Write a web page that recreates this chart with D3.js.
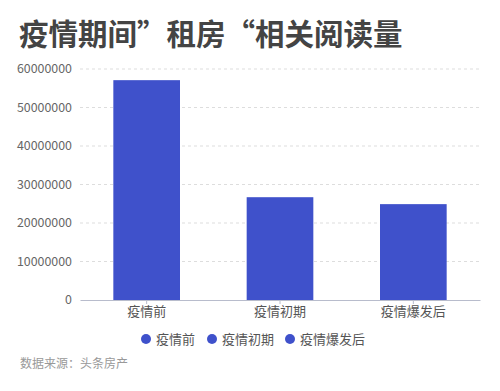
<html>
<head>
<meta charset="utf-8">
<script src="https://d3js.org/d3.v7.min.js"></script>
<style>
body { margin: 0; background: #fff; }
text { font-family: "Noto Sans CJK SC", "Noto Sans", sans-serif; }
</style>
</head>
<body>
<svg width="500" height="391"></svg>
<script>
const categories = ["疫情前", "疫情初期", "疫情爆发后"];
const values = [57100000, 26700000, 24900000];
const yTicks = [0, 10000000, 20000000, 30000000, 40000000, 50000000, 60000000];
const title = "疫情期间”租房“相关阅读量";
const source = "数据来源：头条房产";

const svg = d3.select("svg");
const color = "#3f51cb";

const x = d3.scaleBand().domain(categories).range([80, 480]).paddingInner(0.5).paddingOuter(0.25);
const y = d3.scaleLinear().domain([0, 60000000]).range([300, 69]);

// title
svg.append("text")
  .attr("x", 19)
  .attr("y", 45)
  .style("font-size", "29.5px")
  .style("font-weight", "bold")
  .attr("fill", "#444")
  .text(title);

// grid lines
svg.append("g")
  .selectAll("line")
  .data(yTicks.slice(1))
  .enter()
  .append("line")
  .attr("x1", 80)
  .attr("x2", 480)
  .attr("y1", d => y(d))
  .attr("y2", d => y(d))
  .attr("stroke", "#ddd")
  .attr("stroke-dasharray", "3,3");

// y axis
const yAxis = svg.append("g")
  .attr("transform", "translate(80,0)")
  .call(d3.axisLeft(y).tickValues(yTicks).tickFormat(d3.format("d")).tickSize(0).tickPadding(8));
yAxis.select(".domain").remove();
yAxis.selectAll("text").attr("fill", "#666").style("font-size", "12.4px");

// bars
svg.append("g")
  .selectAll("rect")
  .data(values)
  .enter()
  .append("rect")
  .attr("x", (d, i) => x(categories[i]))
  .attr("y", d => y(d))
  .attr("width", x.bandwidth())
  .attr("height", d => y(0) - y(d))
  .attr("fill", color);

// x axis
const xAxis = svg.append("g")
  .attr("transform", "translate(0,300)")
  .call(d3.axisBottom(x).tickSize(4).tickSizeOuter(0).tickPadding(3));
xAxis.select(".domain").attr("stroke", "#b8bccc");
xAxis.selectAll(".tick line").attr("stroke", "#b8bccc");
xAxis.selectAll("text").attr("fill", "#555").style("font-size", "13px");

// legend
const legendX = [146, 212, 290];
const legend = svg.append("g")
  .selectAll("g")
  .data(categories)
  .enter()
  .append("g")
  .attr("transform", (d, i) => "translate(" + legendX[i] + ",339)");
legend.append("circle").attr("r", 5).attr("fill", color);
legend.append("text")
  .attr("x", 10)
  .attr("dy", "0.35em")
  .attr("fill", "#555")
  .style("font-size", "13px")
  .text(d => d);

// source
svg.append("text")
  .attr("x", 20)
  .attr("y", 368)
  .attr("fill", "#999")
  .style("font-size", "12px")
  .text(source);
</script>
</body>
</html>
